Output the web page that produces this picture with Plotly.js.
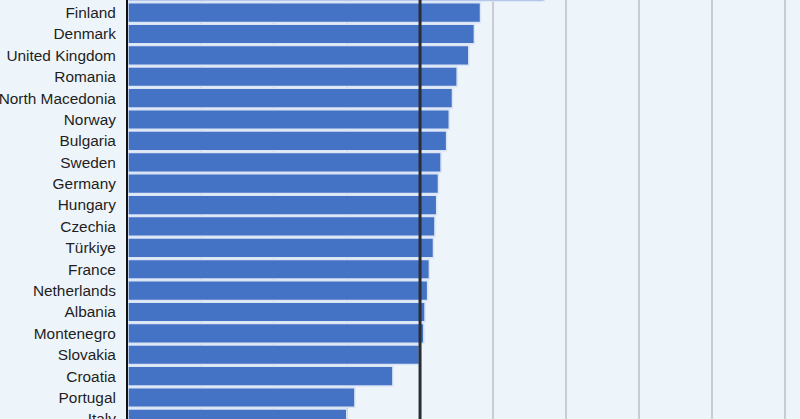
<!DOCTYPE html>
<html>
<head>
<meta charset="utf-8">
<script src="https://cdn.plot.ly/plotly-3.0.1.min.js"></script>
<style>
  html, body { margin: 0; padding: 0; background: #eef5fa; }
  #chart { width: 800px; height: 419px; }
</style>
</head>
<body>
<div id="chart"></div>
<script>
// countries, top to bottom (the first row is only partly in view)
const countries = [
  "Ireland", "Finland", "Denmark", "United Kingdom", "Romania",
  "North Macedonia", "Norway", "Bulgaria", "Sweden", "Germany",
  "Hungary", "Czechia", "Türkiye", "France", "Netherlands",
  "Albania", "Montenegro", "Slovakia", "Croatia", "Portugal", "Italy"
];
const values = [
  142.5, 120.7, 118.6, 116.7, 112.7,
  111.1, 110.0, 109.1, 107.2, 106.3,
  105.7, 105.1, 104.6, 103.2, 102.6,
  101.7, 101.3, 99.8, 90.7, 77.7, 74.9
];
const referenceValue = 100;
const gridStep = 25;

const bars = {
  type: "bar",
  orientation: "h",
  x: values,
  y: countries,
  marker: {
    color: "#4472c4",
    line: { color: "#d9e4f5", width: 1.5 },
  },
  hovertemplate: "%{y}: %{x}<extra></extra>",
};

const layout = {
  width: 800,
  height: 419,
  margin: { l: 128, r: 0, t: 0, b: 0 },
  paper_bgcolor: "#eef5fa",
  plot_bgcolor: "#eef5fa",
  bargap: 0.08,
  showlegend: false,
  font: { family: "Liberation Sans, Arial, sans-serif", size: 15, color: "#222" },
  xaxis: {
    range: [0, 230.1],
    dtick: gridStep,
    tick0: 0,
    showgrid: true,
    gridcolor: "#c9ccd1",
    gridwidth: 1.5,
    zeroline: false,
    showticklabels: false,
    fixedrange: true,
  },
  yaxis: {
    type: "category",
    range: [20.005, 0.41],
    showline: true,
    linecolor: "#111",
    linewidth: 2,
    showgrid: false,
    ticks: "",
    ticklabelstandoff: 7,
    tickfont: { size: 15.4, color: "#1e1e1e" },
    fixedrange: true,
  },
  shapes: [
    {
      type: "line",
      xref: "x",
      yref: "paper",
      x0: referenceValue,
      x1: referenceValue,
      y0: 0,
      y1: 1,
      layer: "above",
      line: { color: "#2b2d35", width: 3 },
    },
  ],
};

Plotly.newPlot("chart", [bars], layout, { displayModeBar: false, staticPlot: true });
</script>
</body>
</html>
